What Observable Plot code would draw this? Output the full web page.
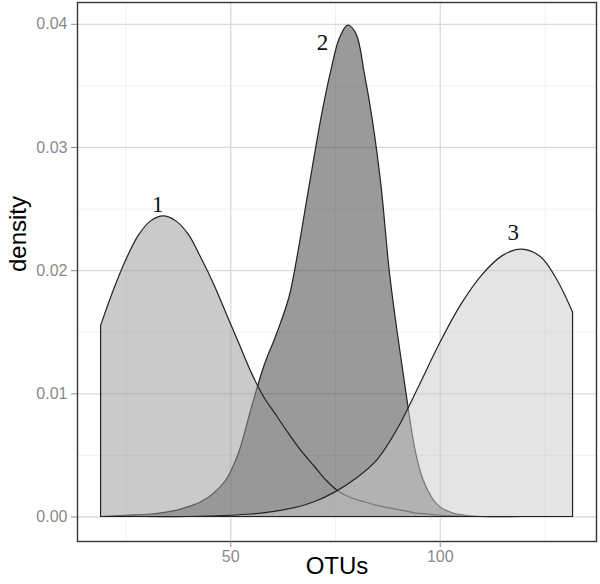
<!DOCTYPE html>
<html>
<head>
<meta charset="utf-8">
<script src="https://cdn.jsdelivr.net/npm/d3@7"></script>
<script src="https://cdn.jsdelivr.net/npm/@observablehq/plot@0.6"></script>
<style>
  html, body { margin: 0; padding: 0; background: #fff; }
  #chart svg { display: block; }
</style>
</head>
<body>
<div id="chart"></div>
<script>
// Group 1
const x1 = [19.05, 22, 25, 28, 31, 34, 37, 40, 43, 46, 49, 52, 55, 58, 61, 64, 67, 70, 73, 76, 79, 82, 85, 88, 91, 94, 97, 100, 104, 110, 120, 131.7];
const d1 = [0.0155, 0.0183, 0.0208, 0.0228, 0.0240, 0.0244, 0.0240, 0.0229, 0.0210, 0.0189, 0.0165, 0.0141, 0.0117, 0.0097, 0.0082, 0.0067, 0.0053, 0.0041, 0.0029, 0.0020, 0.0015, 0.0012, 0.0009, 0.0007, 0.0005, 0.0003, 0.0002, 0.0001, 0.00003, 0, 0, 0];
// Group 2
const x2 = [19.05, 25, 31, 37, 40, 43, 46, 49, 52, 55, 58, 61, 64, 66, 68, 70, 72, 74, 76, 78, 80, 82, 84, 86, 88, 90, 92, 94, 96, 98, 100, 103, 106, 110, 120, 131.7];
const d2 = [0, 0.0001, 0.0002, 0.0005, 0.0008, 0.0012, 0.0019, 0.0030, 0.0052, 0.0088, 0.0122, 0.0148, 0.0178, 0.0212, 0.0252, 0.0292, 0.0330, 0.0362, 0.0388, 0.0399, 0.0392, 0.0360, 0.0320, 0.0268, 0.0198, 0.0146, 0.0099, 0.0056, 0.0030, 0.0016, 0.0008, 0.0003, 0.0001, 0, 0, 0];
// Group 3
const x3 = [19.05, 30, 40, 50, 55, 60, 65, 70, 75, 80, 85, 90, 95, 100, 105, 110, 115, 119.5, 124, 128, 131.7];
const d3v = [0, 0, 0, 0.0001, 0.0002, 0.0004, 0.0007, 0.0012, 0.0020, 0.0031, 0.0046, 0.0072, 0.0106, 0.0141, 0.0172, 0.0196, 0.0212, 0.0217, 0.0211, 0.0192, 0.0166];

const groups = ["1", "2", "3"];
const groupColors = ["#969696", "#353535", "#cacaca"];

const labelX = [32.6, 71.9, 117.4];
const labelY = [0.0254, 0.0385, 0.0231];

const xTicks = [50, 100];
const xMinor = [25, 75, 125];
const yTicks = [0, 0.01, 0.02, 0.03, 0.04];
const yMinor = [0.005, 0.015, 0.025, 0.035];

// drawing order as in the reference: group 2 first, then 1, then 3
const data = [
  ...x2.map((x, i) => ({g: "2", x, y: d2[i]})),
  ...x1.map((x, i) => ({g: "1", x, y: d1[i]})),
  ...x3.map((x, i) => ({g: "3", x, y: d3v[i]}))
];
const labels = groups.map((g, i) => ({g, x: labelX[i], y: labelY[i]}));

const chart = Plot.plot({
  width: 600,
  height: 584,
  marginLeft: 77,
  marginRight: 4,
  marginTop: 2,
  marginBottom: 43,
  style: {fontFamily: "'Liberation Sans', Arial, sans-serif", background: "#fff"},
  x: {domain: [13.42, 137.3]},
  y: {domain: [-0.00199, 0.04177]},
  color: {domain: groups, range: groupColors},
  marks: [
    Plot.ruleX(xMinor, {stroke: "#f0f0f0", strokeWidth: 1}),
    Plot.ruleY(yMinor, {stroke: "#f0f0f0", strokeWidth: 1}),
    Plot.ruleX(xTicks, {stroke: "#dadada", strokeWidth: 1.3}),
    Plot.ruleY(yTicks, {stroke: "#dadada", strokeWidth: 1.3}),
    Plot.areaY(data, {x: "x", y1: 0, y2: "y", z: "g", fill: "g", fillOpacity: 0.5, stroke: "#222", strokeWidth: 1.2, curve: "catmull-rom"}),
    Plot.text(labels, {x: "x", y: "y", text: "g", fontFamily: "'Liberation Serif', 'DejaVu Serif', serif", fontSize: 23, fill: "#111"}),
    Plot.frame({stroke: "#333", strokeWidth: 1.4}),
    Plot.axisX(xTicks, {tickSize: 6, tickPadding: 3, fontSize: 16, color: "#8a8a8a", stroke: "#8a8a8a", label: null}),
    Plot.axisY(yTicks, {tickSize: 6, tickPadding: 4, fontSize: 16, color: "#8a8a8a", stroke: "#8a8a8a", tickFormat: (d) => d.toFixed(2), label: null}),
    Plot.text(["density"], {frameAnchor: "left", dx: -59, rotate: -90, fontSize: 24, fill: "#000"}),
    Plot.text(["OTUs"], {frameAnchor: "bottom", dy: 32, fontSize: 24, fill: "#000"})
  ]
});
document.getElementById("chart").appendChild(chart);
</script>
</body>
</html>
